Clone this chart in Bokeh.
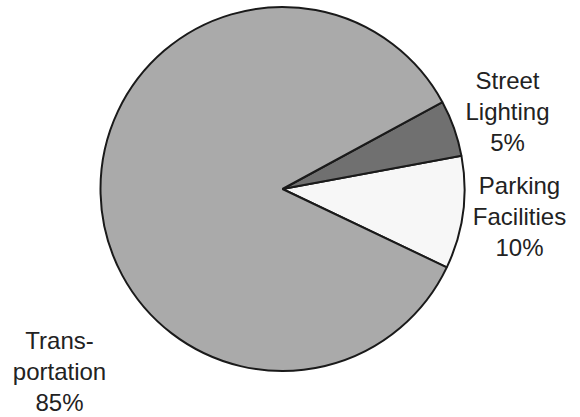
import numpy as np
from bokeh.plotting import figure
from bokeh.models import Range1d, ColumnDataSource
from bokeh.core.properties import value
from bokeh.embed import file_html
from bokeh.resources import INLINE

# Data (counter-clockwise order starting from the lower right)
categories = ["Parking Facilities", "Street Lighting", "Transportation"]
shares = [10, 5, 85]
colors = ["#f7f7f7", "#707070", "#aaaaaa"]

label_lines = [["Parking", "Facilities", "10%"],
               ["Street", "Lighting", "5%"],
               ["Trans-", "portation", "85%"]]

W, H = 580, 417
p = figure(width=W, height=H, output_backend="svg", toolbar_location=None,
           x_range=Range1d(0, W), y_range=Range1d(0, H), min_border=0)
p.axis.visible = False
p.grid.visible = False
p.outline_line_color = None
p.background_fill_color = "white"
p.border_fill_color = "white"

cx, cy, r = 282, H - 188.5, 182
offset = np.deg2rad(-25.5)
vals = np.array(shares, dtype=float)
ends = offset + np.cumsum(vals) / vals.sum() * 2 * np.pi
starts = np.concatenate([[offset], ends[:-1]])

src = ColumnDataSource(dict(start=starts, end=ends, color=colors, cat=categories))
p.wedge(x=cx, y=cy, radius=r, start_angle="start", end_angle="end",
        fill_color="color", line_color="#1a1a1a", line_width=2, source=src)

# label anchor positions (pixels from top), one block per category
anchors = [(519, 185), (507, 80), (59, 340)]
tx, ty, tt = [], [], []
for (ax, ay), lines in zip(anchors, label_lines):
    for i, t in enumerate(lines):
        tx.append(ax)
        ty.append(H - (ay + i * 31))
        tt.append(t)
p.text(x=tx, y=ty, text=tt, text_align="center", text_baseline="middle",
       text_font=value("Liberation Sans"), text_font_size="24px", text_color="#222222")

open("out.html", "w").write(file_html(p, INLINE))
